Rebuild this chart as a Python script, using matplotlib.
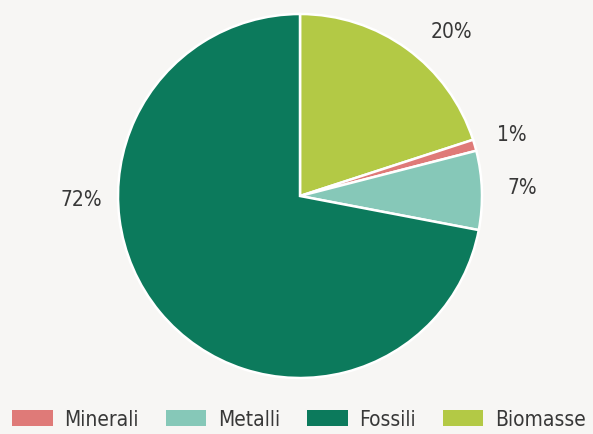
import matplotlib.pyplot as plt
import numpy as np
from matplotlib.patches import Patch

# resource shares, drawn clockwise from 12 o'clock
categories = ['Biomasse', 'Minerali', 'Metalli', 'Fossili']
shares = [20, 1, 7, 72]
colors = ['#b3c945', '#df7a78', '#86c8b8', '#0c7a5c']
legend_order = ['Minerali', 'Metalli', 'Fossili', 'Biomasse']

# where each percentage label sits (degrees, radius in pie units)
label_angles = [47.5, 16.3, 2.3, 180.8]
label_radius = [1.23, 1.21, 1.22, 1.20]

bg = '#f7f6f4'
plt.rcParams['font.family'] = ['DejaVu Sans']
plt.rcParams['font.stretch'] = 'condensed'

fig = plt.figure(figsize=(5.93, 4.35), dpi=100, facecolor=bg)
ax = fig.add_axes([0, 0, 1, 1])
ax.set_facecolor(bg)

r = 182.0
ax.pie(shares, colors=colors, startangle=90, counterclock=False,
       radius=1.0, center=(0, 0),
       wedgeprops=dict(edgecolor='white', linewidth=1.8))
ax.set_xlim(-300 / r, 293 / r)
ax.set_ylim((197 - 435) / r, 197 / r)
ax.set_aspect('auto')
ax.axis('off')

for val, ang, rad in zip(shares, label_angles, label_radius):
    a = np.deg2rad(ang)
    ax.text(rad * np.cos(a), rad * np.sin(a), f'{val}%', ha='center', va='center',
            fontsize=15, color='#383838')

handles = [Patch(facecolor=colors[categories.index(c)], edgecolor='none') for c in legend_order]
fig.legend(handles, legend_order, loc='center left', bbox_to_anchor=(12 / 593, 1 - 420 / 435),
           ncol=4, frameon=False, fontsize=15, labelcolor='#383838',
           borderpad=0, borderaxespad=0,
           handlelength=1.95, handleheight=0.77, handletextpad=0.55, columnspacing=1.3)

fig.savefig('out.png', dpi=100, facecolor=bg)
